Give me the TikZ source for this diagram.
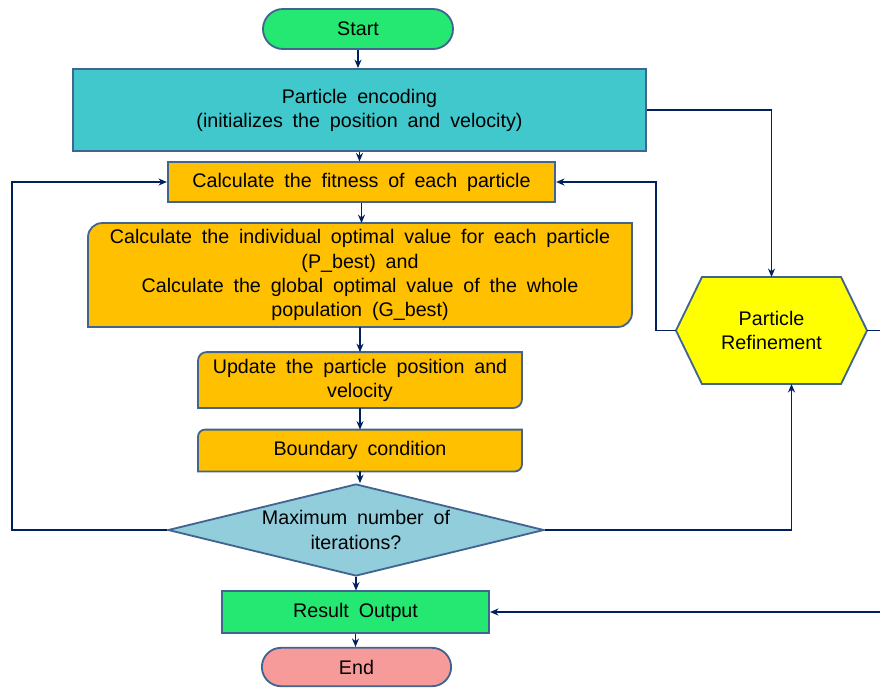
\documentclass[tikz,border=0pt]{standalone}
\usepackage{fontspec}
\setmainfont{Liberation Sans}
\usetikzlibrary{arrows.meta,shapes.geometric,backgrounds}

\definecolor{rim}{RGB}{65,100,145}
\definecolor{wire}{RGB}{0,32,96}
\definecolor{startgreen}{RGB}{36,232,114}
\definecolor{encodeteal}{RGB}{64,200,204}
\definecolor{stepgold}{RGB}{255,192,0}
\definecolor{checkblue}{RGB}{146,205,220}
\definecolor{endpink}{RGB}{247,154,154}
\definecolor{refineyellow}{RGB}{255,255,0}
\newcommand{\flowfont}{\fontsize{14}{17.2}\selectfont\spaceskip 7pt\relax}

\begin{document}
\begin{tikzpicture}[x=0.025cm, y=-0.025cm, >={Stealth[length=6pt,width=5pt]},
  box/.style={draw=rim, line width=1.3pt, align=center, inner sep=2pt, font=\flowfont},
  plain/.style={box, draw=none},
  flow/.style={->, draw=wire, line width=1pt}]
  \useasboundingbox (0,0) rectangle (880,687);
  % main column
  \node[box, fill=startgreen, rounded corners=0.5cm, minimum width=4.75cm, minimum height=1cm] (start) at (358,29) {Start};
  \node[box, fill=encodeteal, minimum width=14.33cm, minimum height=2.05cm] (encode) at (359.5,110) {Particle encoding\\(initializes the position and velocity)};
  \node[box, fill=stepgold, minimum width=9.68cm, minimum height=0.98cm] (fitness) at (361.5,182) {Calculate the fitness of each particle};
  \node[plain, minimum width=13.55cm, minimum height=2.55cm] (optim) at (360,275) {Calculate the individual optimal value for each particle\\(P\_best) and\\Calculate the global optimal value of the whole\\population (G\_best)};
  \node[plain, minimum width=8.05cm, minimum height=1.35cm] (update) at (360,380) {Update the particle position and\\velocity};
  \node[plain, minimum width=8.05cm, minimum height=1cm] (bound) at (360,450.5) {Boundary condition};
  \node[box, diamond, fill=checkblue, inner sep=0pt, shape aspect=4.1, minimum width=9.4cm, minimum height=2.3cm] (check) at (356,530) {Maximum number of\\iterations?};
  \node[box, fill=startgreen, minimum width=6.68cm, minimum height=1.03cm] (result) at (355.5,612) {Result Output};
  \node[box, fill=endpink, rounded corners=0.48cm, minimum width=4.73cm, minimum height=0.96cm] (finish) at (356.5,667) {End};
  % side branch
  \node[plain, minimum width=4.73cm, minimum height=2.63cm] (refine) at (771.5,330.5) {Particle\\Refinement};
  \coordinate (leftrail) at (12,182);

  \begin{scope}[on background layer]
    \foreach \n/\r in {optim/10pt, update/6pt, bound/5pt}
      \draw[box, fill=stepgold] (\n.west) [rounded corners=\r] -- (\n.north west) [sharp corners] -- (\n.north east) [rounded corners=\r] -- (\n.south east) [sharp corners] -- (\n.south west) -- cycle;
    \draw[box, fill=refineyellow] (refine.west) -- ([xshift=0.65cm]refine.north west) -- ([xshift=-0.65cm]refine.north east) -- (refine.east) -- ([xshift=-0.65cm]refine.south east) -- ([xshift=0.65cm]refine.south west) -- cycle;
  \end{scope}

  \foreach \a/\b in {start/encode, encode/fitness, fitness/optim, optim/update, update/bound, bound/check, check/result, result/finish}
    \draw[flow] (\a.south) -- (\a.south |- \b.north);
  \draw[flow] (check.west) -| (leftrail) -- (fitness.west);
  \draw[flow] (encode.east) -| (refine.north);
  \draw[flow] (check.east) -| ([xshift=0.5cm]refine.south);
  \draw[flow] (refine.west) -- ++(-20,0) |- (fitness.east);
  \draw[flow] (refine.east) -- ++(18,0) |- (result.east);
\end{tikzpicture}
\end{document}
